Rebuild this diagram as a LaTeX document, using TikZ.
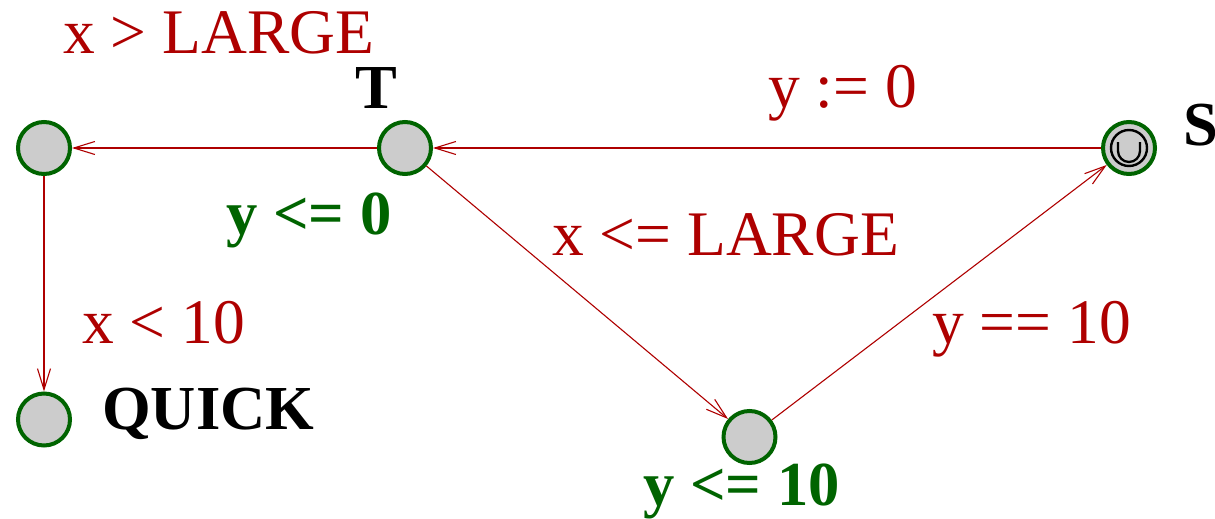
\documentclass[tikz,border=0pt]{standalone}
\usepackage{fontspec}
\setmainfont{Liberation Serif}
\usetikzlibrary{arrows.meta}
\definecolor{edgered}{RGB}{174,0,0}
\definecolor{invgreen}{RGB}{0,100,0}
\definecolor{locgray}{RGB}{204,204,204}
\tikzset{
  loc/.style={circle, draw=invgreen, fill=locgray, line width=4pt, minimum size=52pt, inner sep=0pt},
  trans/.style={draw=edgered, line width=1.1pt, -{Straight Barb[length=21pt,width=13pt,line width=1.1pt]}},
  lab/.style={font=\fontsize{63.5}{70}\selectfont, text=edgered, inner sep=0pt, anchor=base west},
  inv/.style={font=\fontsize{62.6}{70}\selectfont\bfseries, text=invgreen, inner sep=0pt, anchor=base west},
  nm/.style={font=\fontsize{62.6}{70}\selectfont\bfseries, text=black, inner sep=0pt, anchor=base west}
}
\begin{document}
\begin{tikzpicture}[x=1pt,y=-1pt]
\useasboundingbox (0,0) rectangle (1215,519);
\node[loc] (L) at (44,148) {};
\node[loc] (T) at (405,148) {};
\node[loc] (S) at (1129,148) {};
\node[loc] (B) at (749.5,437) {};
\node[loc] (Q) at (44,419.5) {};
% initial marker and symbol in S
\draw[black, line width=2.4pt] (S.center) circle (18pt);
\draw[black, line width=2.3pt] (1118,142) -- (1118,151) arc[start angle=180, end angle=360, x radius=11pt, y radius=11pt] -- (1140,142);
% edges
\draw[trans] (T) -- (L);
\draw[trans] (S) -- (T);
\draw[trans] (L) -- (Q);
\draw[trans] (T) -- (B);
\draw[trans] (B) -- (S);
% labels
\node[lab] (g1) at (63,53) {x > LARGE};
\node[nm] (nT) at (355,108) {T};
\node[lab] (a1) at (768,107) {y := 0};
\node[nm] (nS) at (1183,145) {S};
\node[inv] (iT) at (226,234) {y <= 0};
\node[lab] (g2) at (552,255) {x <= LARGE};
\node[lab] (g3) at (82,343) {x < 10};
\node[lab] (g4) at (932,343) {y == 10};
\node[nm] (nQ) at (102,429) {QUICK};
\node[inv] (iB) at (643,505) {y <= 10};
\end{tikzpicture}
\end{document}
